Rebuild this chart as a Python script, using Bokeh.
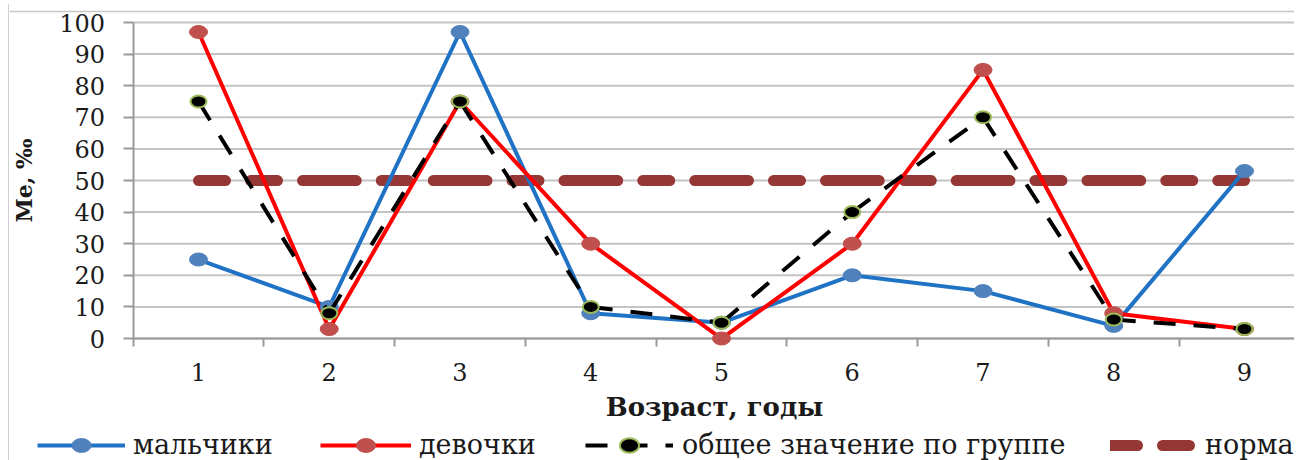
from bokeh.plotting import figure
from bokeh.models import Range1d, FixedTicker, Legend, LegendItem, Span
from bokeh.embed import file_html
from bokeh.resources import INLINE

# ---- data ----
ages = [1, 2, 3, 4, 5, 6, 7, 8, 9]
x_labels = ["1", "2", "3", "4", "5", "6", "7", "8", "9"]
boys = [25, 10, 97, 8, 5, 20, 15, 4, 53]
girls = [97, 3, 75, 30, 0, 30, 85, 8, 3]
group = [75, 8, 75, 10, 5, 40, 70, 6, 3]
norm = [50, 50, 50, 50, 50, 50, 50, 50, 50]
y_ticks = [0, 10, 20, 30, 40, 50, 60, 70, 80, 90, 100]
series_names = ["мальчики", "девочки", "общее значение по группе", "норма"]

SERIF = "DejaVu Serif"
X_LO, X_HI = -0.4455, 9.39      # canvas spans a bit more than the category area
Y_LO, Y_HI = -38.6, 105.7       # room below for axis texts and legend

p = figure(width=1286, height=456, output_backend="svg", toolbar_location=None,
           x_range=Range1d(X_LO, X_HI), y_range=Range1d(Y_LO, Y_HI),
           min_border_left=0, min_border_right=0, min_border_top=0,
           min_border_bottom=0)
p.margin = (4, 0, 0, 8)
p.styles = {"border-left": "1px solid #d0d0d0"}
p.outline_line_color = None
p.background_fill_color = "white"
p.border_fill_color = "white"
p.xgrid.visible = False
p.ygrid.visible = False

# thin frame line of the chart area (top edge)
p.add_layout(Span(location=103.5, dimension="width", line_color="#c8c8c8",
                  line_width=1.5))

# horizontal grid lines over the category area only
grid_x0 = [ages[0] - 0.5] * len(y_ticks)
grid_x1 = [X_HI] * len(y_ticks)
p.segment(x0=grid_x0, y0=y_ticks, x1=grid_x1, y1=y_ticks,
          line_color="#c4c4c4", line_width=2, level="underlay")

# y axis, fixed at the left edge of the category area
p.yaxis.fixed_location = ages[0] - 0.5
p.yaxis.bounds = (y_ticks[0], y_ticks[-1])
p.yaxis.ticker = FixedTicker(ticks=y_ticks)
p.yaxis.axis_line_color = "#9a9a9a"
p.yaxis.axis_line_width = 2
p.yaxis.major_tick_line_color = "#9a9a9a"
p.yaxis.major_tick_line_width = 2
p.yaxis.major_tick_out = 10
p.yaxis.major_tick_in = 0
p.yaxis.minor_tick_line_color = None
p.yaxis.major_label_standoff = 18
p.yaxis.major_label_text_font = SERIF
p.yaxis.major_label_text_font_size = "24px"
p.yaxis.major_label_text_color = "#1a1a1a"
p.yaxis.axis_label = "Ме, ‰"
p.yaxis.axis_label_text_font = SERIF
p.yaxis.axis_label_text_font_style = "bold"
p.yaxis.axis_label_text_font_size = "22px"
p.yaxis.axis_label_text_color = "#1a1a1a"
p.yaxis.axis_label_standoff = 20
p.yaxis.level = "underlay"

# x axis at y = 0: labels at categories, tick marks between categories
p.xaxis.fixed_location = 0
p.xaxis.bounds = (ages[0] - 0.5, X_HI)
p.xaxis.ticker = FixedTicker(ticks=ages, minor_ticks=[a - 0.5 for a in ages])
p.xaxis.major_label_overrides = {a: l for a, l in zip(ages, x_labels)}
p.xaxis.axis_line_color = "#9a9a9a"
p.xaxis.axis_line_width = 2
p.xaxis.major_tick_line_color = None
p.xaxis.major_tick_out = 8
p.xaxis.major_tick_in = 0
p.xaxis.minor_tick_line_color = "#9a9a9a"
p.xaxis.minor_tick_line_width = 2
p.xaxis.minor_tick_out = 8
p.xaxis.minor_tick_in = 0
p.xaxis.major_label_standoff = 16
p.xaxis.major_label_text_font = SERIF
p.xaxis.major_label_text_font_size = "24px"
p.xaxis.major_label_text_color = "#1a1a1a"
p.xaxis.axis_label = "Возраст, годы"
p.xaxis.axis_label_text_font = SERIF
p.xaxis.axis_label_text_font_style = "bold"
p.xaxis.axis_label_text_font_size = "26px"
p.xaxis.axis_label_text_color = "#1a1a1a"
p.xaxis.axis_label_standoff = 8
p.xaxis.level = "underlay"

# ---- series ----
def segs(xs, ys):
    return ([[xs[i], xs[i + 1]] for i in range(len(xs) - 1)],
            [[ys[i], ys[i + 1]] for i in range(len(ys) - 1)])

nx, ny = segs(ages, norm)
r_norm = p.multi_line(nx, ny, line_color="#953735", line_width=11,
                      line_dash="27 25", line_cap="round")

r_boys_l = p.line(ages, boys, line_color="#1f72c4", line_width=4)
r_girls_l = p.line(ages, girls, line_color="#ff0000", line_width=4)
r_boys_m = p.ellipse(ages, boys, width=18, height=13, width_units="screen",
                     height_units="screen", fill_color="#4f81bd", line_color="#4f81bd")
r_girls_m = p.ellipse(ages, girls, width=18, height=13, width_units="screen",
                      height_units="screen", fill_color="#c0504d", line_color="#c0504d")

gx, gy = segs(ages, group)
r_group_l = p.multi_line(gx, gy, line_color="black", line_width=4, line_dash="22 18")
r_group_m = p.ellipse(ages, group, width=16, height=12, width_units="screen",
                      height_units="screen", fill_color="black", line_color="#9bbb59",
                      line_width=2)

# ---- legends (one per entry, placed like the reference) ----
def add_legend(label, renderers, vx, gw, standoff):
    leg = Legend(items=[LegendItem(label=label, renderers=renderers)],
                 location=(vx, 0), orientation="horizontal",
                 glyph_width=gw, glyph_height=24, label_standoff=standoff,
                 padding=0, margin=0, spacing=0,
                 border_line_color=None, background_fill_alpha=0,
                 label_text_font="'DejaVu Serif', serif", label_text_font_style="normal",
                 label_text_font_size="27px", label_text_color="#1a1a1a")
    p.add_layout(leg)

add_legend(series_names[0], [r_boys_l, r_boys_m], 28, 88, 8)
add_legend(series_names[1], [r_girls_l, r_girls_m], 311, 91, 8)
add_legend(series_names[2], [r_group_l, r_group_m], 576, 88, 9)
add_legend(series_names[3], [r_norm], 1101, 90, 5)

open("out.html", "w").write(file_html(p, INLINE))
